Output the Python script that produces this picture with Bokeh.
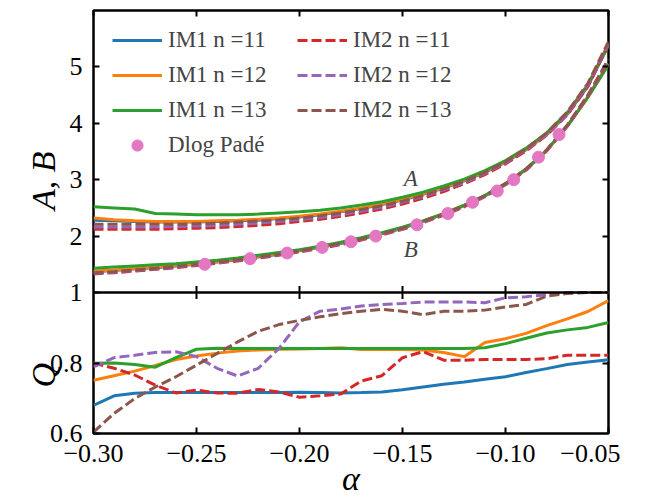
import math
from bokeh.plotting import figure
from bokeh.models import (Range1d, LinearAxis, FixedTicker, CustomJSTickFormatter,
                          Legend, LegendItem, Label, Span)
from bokeh.embed import file_html
from bokeh.resources import INLINE

# ---------------- data ----------------
alpha = [-0.30, -0.29, -0.28, -0.27, -0.26, -0.25, -0.24, -0.23, -0.22, -0.21, -0.20,
         -0.19, -0.18, -0.17, -0.16, -0.15, -0.14, -0.13, -0.12, -0.11, -0.10,
         -0.09, -0.08, -0.07, -0.06, -0.05]

A_im1_11 = [2.28, 2.27, 2.26, 2.25, 2.25, 2.25, 2.26, 2.27, 2.28, 2.31, 2.34, 2.38, 2.43,
            2.49, 2.56, 2.64, 2.74, 2.85, 2.98, 3.13, 3.31, 3.53, 3.80, 4.16, 4.66, 5.38]
A_im1_12 = [2.32, 2.29, 2.27, 2.26, 2.26, 2.26, 2.27, 2.28, 2.30, 2.32, 2.35, 2.39, 2.44,
            2.50, 2.57, 2.65, 2.75, 2.86, 2.99, 3.14, 3.32, 3.54, 3.81, 4.17, 4.68, 5.40]
A_im1_13 = [2.52, 2.50, 2.48, 2.40, 2.39, 2.38, 2.38, 2.38, 2.39, 2.41, 2.43, 2.46, 2.50,
            2.55, 2.61, 2.69, 2.78, 2.89, 3.01, 3.16, 3.34, 3.56, 3.83, 4.19, 4.69, 5.38]
A_im2_11 = [2.12, 2.12, 2.12, 2.12, 2.13, 2.14, 2.15, 2.17, 2.19, 2.22, 2.26, 2.30, 2.35,
            2.41, 2.48, 2.57, 2.67, 2.79, 2.93, 3.09, 3.28, 3.51, 3.79, 4.15, 4.65, 5.40]
A_im2_12 = [2.16, 2.16, 2.16, 2.16, 2.17, 2.18, 2.19, 2.21, 2.23, 2.26, 2.29, 2.33, 2.38,
            2.44, 2.51, 2.60, 2.70, 2.82, 2.95, 3.11, 3.30, 3.53, 3.80, 4.17, 4.68, 5.42]
A_im2_13 = [2.21, 2.21, 2.21, 2.21, 2.21, 2.22, 2.23, 2.25, 2.27, 2.29, 2.32, 2.36, 2.41,
            2.47, 2.54, 2.62, 2.72, 2.84, 2.97, 3.13, 3.32, 3.55, 3.83, 4.20, 4.71, 5.45]

B_im1_11 = [1.37, 1.39, 1.42, 1.44, 1.47, 1.50, 1.54, 1.58, 1.63, 1.68, 1.74, 1.80, 1.87,
            1.95, 2.04, 2.14, 2.26, 2.39, 2.54, 2.71, 2.92, 3.18, 3.52, 3.95, 4.47, 5.06]
B_im1_12 = [1.38, 1.40, 1.42, 1.45, 1.48, 1.51, 1.55, 1.59, 1.64, 1.69, 1.75, 1.81, 1.88,
            1.96, 2.05, 2.15, 2.27, 2.40, 2.55, 2.72, 2.93, 3.19, 3.52, 3.95, 4.47, 5.05]
B_im1_13 = [1.43, 1.45, 1.47, 1.49, 1.51, 1.54, 1.57, 1.61, 1.66, 1.71, 1.76, 1.82, 1.89,
            1.97, 2.06, 2.16, 2.27, 2.40, 2.55, 2.72, 2.93, 3.19, 3.52, 3.95, 4.46, 5.04]
B_im2_11 = [1.33, 1.35, 1.38, 1.41, 1.44, 1.48, 1.52, 1.56, 1.61, 1.66, 1.72, 1.78, 1.85,
            1.93, 2.02, 2.12, 2.24, 2.37, 2.52, 2.70, 2.91, 3.17, 3.51, 3.95, 4.48, 5.10]
B_im2_12 = [1.34, 1.36, 1.39, 1.42, 1.45, 1.49, 1.53, 1.57, 1.62, 1.67, 1.73, 1.79, 1.86,
            1.94, 2.03, 2.13, 2.25, 2.38, 2.53, 2.71, 2.92, 3.18, 3.52, 3.96, 4.49, 5.12]
B_im2_13 = [1.35, 1.37, 1.40, 1.43, 1.46, 1.50, 1.54, 1.58, 1.63, 1.68, 1.74, 1.80, 1.87,
            1.95, 2.04, 2.14, 2.26, 2.39, 2.54, 2.72, 2.93, 3.19, 3.53, 3.97, 4.50, 5.14]

pade_alpha = [-0.246, -0.224, -0.206, -0.189, -0.175, -0.163, -0.143, -0.128, -0.116,
              -0.104, -0.096, -0.084, -0.074]
pade_B = [1.5, 1.6, 1.7, 1.8, 1.9, 2.0, 2.2, 2.4, 2.6, 2.8, 3.0, 3.4, 3.8]

Q_im1_11 = [0.680, 0.707, 0.714, 0.716, 0.716, 0.716, 0.716, 0.716, 0.716, 0.716, 0.717,
            0.716, 0.715, 0.716, 0.718, 0.724, 0.732, 0.740, 0.746, 0.754, 0.761, 0.773,
            0.784, 0.796, 0.803, 0.809]
Q_im1_12 = [0.751, 0.764, 0.777, 0.793, 0.810, 0.820, 0.828, 0.834, 0.837, 0.839, 0.840,
            0.841, 0.843, 0.838, 0.838, 0.838, 0.837, 0.830, 0.818, 0.858, 0.869, 0.884,
            0.906, 0.925, 0.946, 0.977]
Q_im1_13 = [0.799, 0.800, 0.796, 0.788, 0.815, 0.839, 0.842, 0.841, 0.841, 0.841, 0.841,
            0.841, 0.841, 0.841, 0.841, 0.841, 0.841, 0.841, 0.841, 0.843, 0.855, 0.870,
            0.885, 0.894, 0.901, 0.915]
Q_im2_11 = [0.800, 0.785, 0.766, 0.737, 0.715, 0.723, 0.715, 0.714, 0.725, 0.718, 0.703,
            0.707, 0.712, 0.749, 0.764, 0.815, 0.832, 0.808, 0.808, 0.810, 0.810, 0.810,
            0.812, 0.822, 0.822, 0.822]
Q_im2_12 = [0.789, 0.815, 0.822, 0.830, 0.832, 0.818, 0.785, 0.763, 0.785, 0.841, 0.917,
            0.947, 0.953, 0.962, 0.966, 0.969, 0.973, 0.973, 0.973, 0.971, 0.985, 0.988,
            0.994, 1.000, 1.000, 1.000]
Q_im2_13 = [0.604, 0.657, 0.699, 0.732, 0.761, 0.794, 0.827, 0.860, 0.890, 0.909, 0.921,
            0.931, 0.940, 0.947, 0.952, 0.947, 0.937, 0.947, 0.947, 0.950, 0.959, 0.966,
            0.990, 0.997, 1.000, 1.000]

series_labels = ["IM1 n =11", "IM1 n =12", "IM1 n =13",
                 "IM2 n =11", "IM2 n =12", "IM2 n =13"]
pade_label = "Dlog Padé"
ylabel_top = "A, B"
ylabel_bottom = "Q"
xlabel = "\u03b1"

x_ticks = [-0.30, -0.25, -0.20, -0.15, -0.10, -0.05]
ab_ticks = [2, 3, 4, 5]
q_ticks = [0.6, 0.8, 1.0]

AB_MIN, AB_MAX = 1.0, 6.0      # upper panel range
Q_MIN, Q_MAX = 0.6, 1.0        # lower panel range

# ---------------- style ----------------
FONT = "Liberation Serif"
COLORS = ["#1f77b4", "#ff7f0e", "#2ca02c", "#d62728", "#9467bd", "#8c564b"]
DASHES = ["solid", "solid", "solid", "10 4", "10 4", "10 4"]
PINK = "#e377c2"
LW = 3
TOP_H, BOT_H = 282, 141

A_all = [A_im1_11, A_im1_12, A_im1_13, A_im2_11, A_im2_12, A_im2_13]
B_all = [B_im1_11, B_im1_12, B_im1_13, B_im2_11, B_im2_12, B_im2_13]
Q_all = [Q_im1_11, Q_im1_12, Q_im1_13, Q_im2_11, Q_im2_12, Q_im2_13]

# one frame holding both panels: A,B on the main y range, Q on an extra range
ab_per_px = (AB_MAX - AB_MIN) / TOP_H
q_per_px = (Q_MAX - Q_MIN) / BOT_H
y_main = Range1d(AB_MIN - BOT_H * ab_per_px, AB_MAX)
y_q = Range1d(Q_MIN, Q_MIN + (TOP_H + BOT_H) * q_per_px)


def q_to_main(q):
    return y_main.start + (q - Q_MIN) / q_per_px * ab_per_px


left_ticks = [q_to_main(q) for q in q_ticks] + ab_ticks
right_ticks = [q_to_main(q) for q in q_ticks[1:2]] + ab_ticks
title_ticks = [q_to_main((Q_MIN + Q_MAX) / 2), (AB_MIN + AB_MAX) / 2]

y_fmt = CustomJSTickFormatter(
    args=dict(y0=y_main.start, qmin=Q_MIN, k=q_per_px / ab_per_px, abmin=AB_MIN),
    code="""
    if (tick > abmin + 0.5) { return tick.toFixed(0); }
    const q = qmin + (tick - y0) * k;
    if (Math.abs(q - 1) < 1e-6) { return '1'; }
    return q.toFixed(1);
""")
title_fmt = CustomJSTickFormatter(
    args=dict(abmin=AB_MIN, top=ylabel_top, bottom=ylabel_bottom),
    code="return tick > abmin ? top : bottom;")
x_fmt = CustomJSTickFormatter(code="return tick.toFixed(2).replace('-', '\u2212');")

p = figure(frame_width=515, frame_height=TOP_H + BOT_H,
           x_range=Range1d(-0.30, -0.05), y_range=y_main,
           output_backend="svg", toolbar_location=None,
           x_axis_location=None, y_axis_location=None,
           min_border_left=93, min_border_right=12, min_border_top=10, min_border_bottom=0)
p.extra_y_ranges = {"q": y_q}
p.grid.visible = False
p.outline_line_color = "black"
p.outline_line_width = 2.5


def make_axis(ticks, fmt, show_labels, standoff=10):
    ax = LinearAxis(ticker=FixedTicker(ticks=ticks, minor_ticks=[]), formatter=fmt)
    ax.major_tick_in = 6
    ax.major_tick_out = 0
    ax.minor_tick_in = 0
    ax.minor_tick_out = 0
    ax.major_tick_line_width = 2
    ax.major_tick_line_color = "black"
    ax.axis_line_color = None
    if show_labels:
        ax.major_label_text_font = FONT
        ax.major_label_text_font_size = "26px"
        ax.major_label_text_color = "black"
        ax.major_label_standoff = standoff
    else:
        ax.major_label_text_font_size = "0px"
        ax.major_label_text_color = None
        ax.major_label_standoff = 0
    return ax


p.add_layout(make_axis(left_ticks, y_fmt, True, 11), "left")

# outer left "axis" carrying the two y-axis titles, one per panel
ty = make_axis(title_ticks, title_fmt, True, 3)
ty.major_tick_in = 0
ty.major_tick_line_color = None
ty.major_label_text_font_size = "34px"
ty.major_label_text_font_style = "italic"
ty.major_label_orientation = math.pi / 2
p.add_layout(ty, "left")

p.add_layout(make_axis(right_ticks, y_fmt, False), "right")
p.add_layout(make_axis(x_ticks, x_fmt, False), "above")
bx = make_axis(x_ticks, x_fmt, True, 11)
bx.axis_label = xlabel
bx.axis_label_text_font = FONT
bx.axis_label_text_font_size = "34px"
bx.axis_label_text_font_style = "italic"
bx.axis_label_text_color = "black"
bx.axis_label_standoff = -5
p.add_layout(bx, "below")

# panel divider and its inward ticks (both directions)
p.add_layout(Span(location=AB_MIN, dimension="width", line_color="black", line_width=2.5))
p.scatter(x_ticks[1:-1], [AB_MIN] * (len(x_ticks) - 2), marker="dash", angle=math.pi / 2,
          size=13, line_color="black", line_width=2)

# ---------------- upper panel: A and B ----------------
renderers = []
for A, B, c, d in zip(A_all, B_all, COLORS, DASHES):
    ra = p.line(alpha, A, line_color=c, line_width=LW, line_dash=d)
    p.line(alpha, B, line_color=c, line_width=LW, line_dash=d)
    renderers.append(ra)

rp = p.scatter(pade_alpha, pade_B, size=12, fill_color=PINK, line_color=PINK, marker="circle")

p.add_layout(Label(x=-0.146, y=3.02, text="A", text_font=FONT, text_font_size="23px",
                   text_font_style="italic", text_align="center", text_baseline="middle"))
p.add_layout(Label(x=-0.146, y=1.77, text="B", text_font=FONT, text_font_size="23px",
                   text_font_style="italic", text_align="center", text_baseline="middle"))

# ---------------- lower panel: Q ----------------
for Q, c, d in zip(Q_all, COLORS, DASHES):
    p.line(alpha, Q, line_color=c, line_width=LW, line_dash=d, y_range_name="q")


def styled_legend(items, loc):
    lg = Legend(items=items, location=loc, orientation="vertical")
    lg.background_fill_alpha = 0
    lg.border_line_color = None
    lg.label_text_font = FONT
    lg.label_text_font_size = "23px"
    lg.glyph_width = 50
    lg.glyph_height = 28
    lg.label_height = 28
    lg.spacing = 7
    lg.padding = 0
    lg.margin = 0
    lg.label_standoff = 6
    return lg


leg1_items = [LegendItem(label=series_labels[i], renderers=[renderers[i]]) for i in range(3)]
leg1_items.append(LegendItem(label=pade_label, renderers=[rp]))
leg2_items = [LegendItem(label=series_labels[i], renderers=[renderers[i]]) for i in range(3, 6)]
p.add_layout(styled_legend(leg1_items, (19, 133 + BOT_H)))
p.add_layout(styled_legend(leg2_items, (204, 168 + BOT_H)))

open("out.html", "w").write(file_html(p, INLINE))
